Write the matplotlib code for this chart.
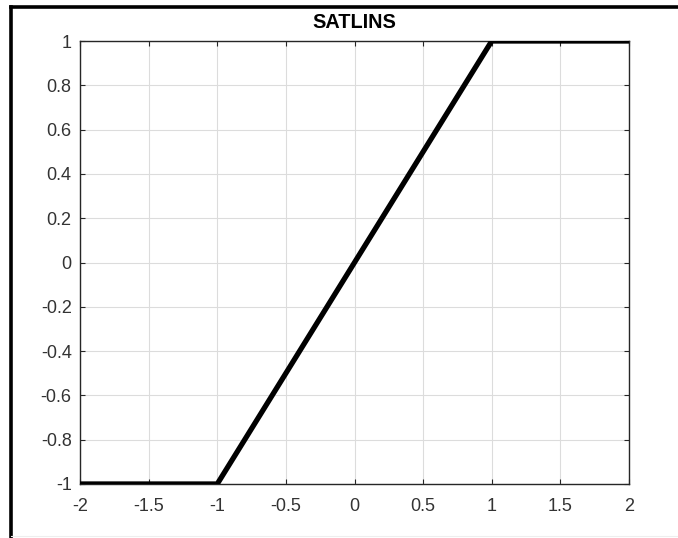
import matplotlib
matplotlib.use("Agg")
import matplotlib.pyplot as plt
from matplotlib.lines import Line2D

x_vals = [-2, -1, 1, 2]
y_vals = [-1, -1, 1, 1]
x_ticks = [-2, -1.5, -1, -0.5, 0, 0.5, 1, 1.5, 2]
x_ticklabels = ["-2", "-1.5", "-1", "-0.5", "0", "0.5", "1", "1.5", "2"]
y_ticks = [-1, -0.8, -0.6, -0.4, -0.2, 0, 0.2, 0.4, 0.6, 0.8, 1]
y_ticklabels = ["-1", "-0.8", "-0.6", "-0.4", "-0.2", "0", "0.2", "0.4", "0.6", "0.8", "1"]
title = "SATLINS"

plt.rcParams['font.family'] = ['Liberation Sans', 'DejaVu Sans']

W, H = 678, 538
fig = plt.figure(figsize=(W / 100, H / 100), dpi=100)
fig.patch.set_facecolor('white')

ax = fig.add_axes([80 / W, 1 - 484 / H, (629 - 80) / W, (484 - 41) / H])
ax.plot(x_vals, y_vals, color='black', linewidth=3.8, solid_joinstyle='miter', zorder=3)
ax.set_xlim(-2, 2)
ax.set_ylim(-1, 1)
ax.set_xticks(x_ticks)
ax.set_xticklabels(x_ticklabels)
ax.set_yticks(y_ticks)
ax.set_yticklabels(y_ticklabels)
ax.grid(True, color='#dcdcdc', linewidth=0.8)
ax.set_axisbelow(True)
ax.tick_params(direction='in', length=3.5, width=0.8, color='#262626',
               labelcolor='#333333', labelsize=13, top=True, right=True)
ax.tick_params(axis='x', pad=10)
ax.tick_params(axis='y', pad=6)
for s in ax.spines.values():
    s.set_color('#262626')
    s.set_linewidth(1.0)
ax.set_title(title, fontsize=14.3, fontweight='bold', pad=9)

# figure frame lines
fig.add_artist(Line2D([11 / W, 1], [1 - 6.5 / H, 1 - 6.5 / H], color='black',
                      linewidth=2.6, transform=fig.transFigure))
fig.add_artist(Line2D([11 / W, 11 / W], [0, 1 - 6.5 / H], color='black',
                      linewidth=2.6, transform=fig.transFigure, solid_capstyle='projecting'))
fig.add_artist(Line2D([11 / W, 1], [1 - 535.5 / H, 1 - 535.5 / H], color='#eeeeee',
                      linewidth=0.8, transform=fig.transFigure))

fig.savefig("out.png", dpi=100)
